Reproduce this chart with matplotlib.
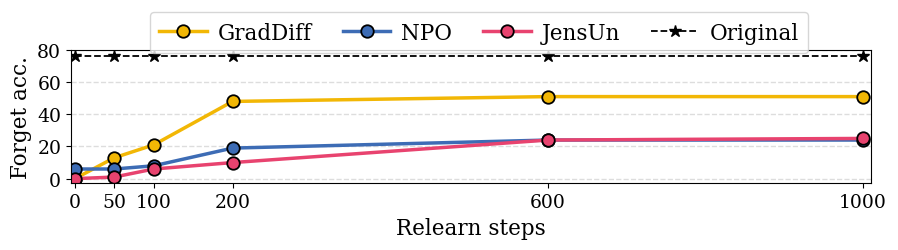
import matplotlib
matplotlib.use("Agg")
import matplotlib.pyplot as plt

steps = [0, 50, 100, 200, 600, 1000]
graddiff = [0, 13, 21, 48, 51, 51]
npo = [6, 6, 8, 19, 24, 24]
jensun = [0, 1, 6, 10, 24, 25]
original = [76, 76, 76, 76, 76, 76]
yticks = [0, 20, 40, 60, 80]

plt.rcParams["font.family"] = "DejaVu Serif"

fig, ax = plt.subplots(figsize=(8.98, 2.51), dpi=100)
fig.subplots_adjust(left=0.079, right=0.97, top=0.797, bottom=0.265)

mk = dict(marker="o", markersize=9, markeredgecolor="black", markeredgewidth=1.3, linewidth=2.5)
ax.plot(steps, graddiff, color="#F2B705", label="GradDiff", **mk)
ax.plot(steps, npo, color="#3D6CB5", label="NPO", **mk)
ax.plot(steps, jensun, color="#E8436F", label="JensUn", **mk)
ax.plot(steps, original, color="black", linestyle="--", marker="*", markersize=9,
        linewidth=1.3, label="Original")

ax.set_xlim(-5, 1010)
ax.set_ylim(-3, 80)
ax.set_xticks(steps)
ax.set_yticks(yticks)
ax.tick_params(labelsize=13.5)
ax.yaxis.grid(True, linestyle="--", color="#dddddd", linewidth=1)
ax.set_axisbelow(True)
ax.set_xlabel("Relearn steps", fontsize=15.5)
ax.set_ylabel("Forget acc.", fontsize=15.5)

ax.legend(loc="upper center", bbox_to_anchor=(0.51, 1.365), ncol=4, fontsize=15.5,
          handlelength=2.2, handletextpad=0.5, columnspacing=1.45, borderpad=0.45)

fig.savefig("out.png", dpi=100)
